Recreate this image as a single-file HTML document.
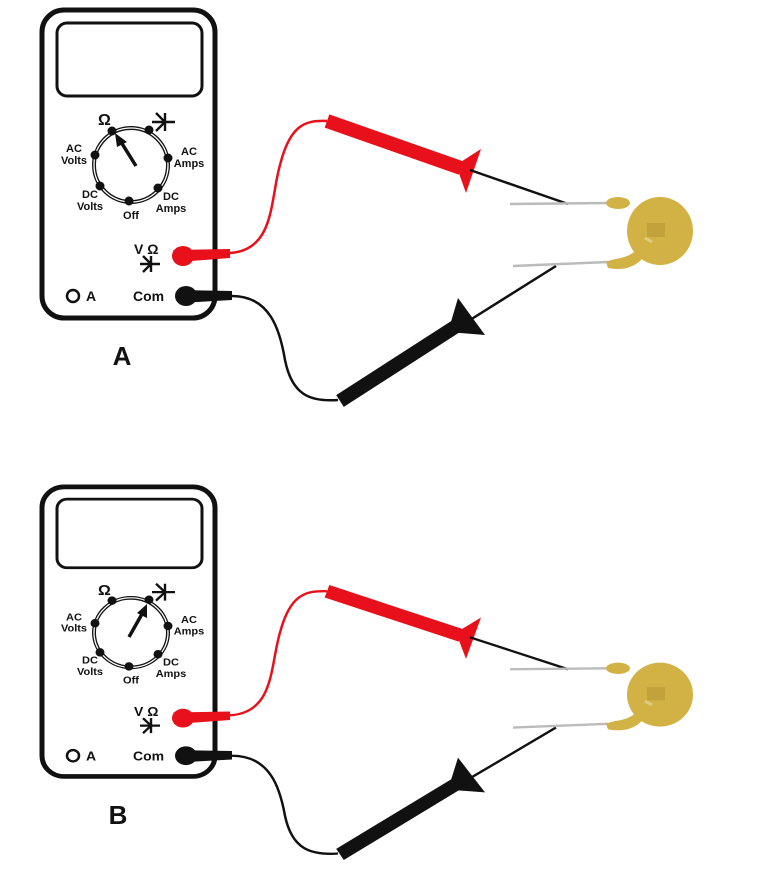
<!DOCTYPE html>
<html><head><meta charset="utf-8"><style>
html,body{margin:0;padding:0;background:#fff;}
svg{display:block;}
text{font-family:"Liberation Sans",sans-serif;font-weight:bold;fill:#111;}
</style></head><body>
<svg width="768" height="889" viewBox="0 0 768 889" xmlns="http://www.w3.org/2000/svg">
<defs>
<g id="panel">
  <rect x="42" y="10" width="173" height="308" rx="22" fill="#fff" stroke="#111" stroke-width="5"/>
  <rect x="57" y="23" width="145" height="73" rx="10" fill="#fff" stroke="#111" stroke-width="3"/>
  <circle cx="131" cy="165" r="37" fill="none" stroke="#111" stroke-width="4"/>
  <circle cx="131" cy="165" r="37" fill="none" stroke="#fff" stroke-width="1.3"/>
  <g fill="#111">
    <circle cx="112" cy="131" r="4.5"/><circle cx="149" cy="130" r="4.5"/>
    <circle cx="95" cy="155" r="4.5"/><circle cx="168" cy="158" r="4.5"/>
    <circle cx="100" cy="186" r="4.5"/><circle cx="158" cy="188" r="4.5"/>
    <circle cx="129" cy="201" r="4.5"/>
  </g>
  <text x="98" y="125" font-size="16">Ω</text>
  <path d="M152 122 H175 M165 113 V131 M156 113 L165 122 L156 131" stroke="#111" stroke-width="2.4" fill="none"/>
  <g font-size="11" text-anchor="middle">
    <text x="74" y="152">AC</text><text x="74" y="164">Volts</text>
    <text x="189" y="155">AC</text><text x="189" y="167">Amps</text>
    <text x="90" y="198">DC</text><text x="90" y="210">Volts</text>
    <text x="131" y="219">Off</text>
    <text x="171" y="200">DC</text><text x="171" y="212">Amps</text>
  </g>
  <text x="134" y="254" font-size="14">V Ω</text>
  <path d="M140 264 H160 M151 256 V272 M143 256 L151 264 L143 272" stroke="#111" stroke-width="2.4" fill="none"/>
  <circle cx="73" cy="296" r="6" fill="none" stroke="#111" stroke-width="2.5"/>
  <text x="86" y="301" font-size="14">A</text>
  <text x="133" y="301" font-size="14">Com</text>
  <!-- red lead -->
  <path d="M230 253 C275 250 270 200 280 165 C290 125 305 120 327 121" fill="none" stroke="#e8101a" stroke-width="2.5"/>
  <path d="M173 250 L230 249 L230 258 L178 262 Z" fill="#e8101a"/>
  <ellipse cx="183" cy="256" rx="11" ry="10" fill="#e8101a"/>
  <line x1="327" y1="121" x2="461" y2="168" stroke="#e8101a" stroke-width="14"/>
  <polygon points="481,149 466,193 456,165" fill="#e8101a"/>
  <line x1="470" y1="170" x2="568" y2="204" stroke="#111" stroke-width="2.5"/>
  <!-- black lead -->
  <path d="M232 296 C270 296 280 330 285 360 C292 395 310 402 338 400" fill="none" stroke="#111" stroke-width="2.5"/>
  <path d="M178 290 L232 291 L232 300 L180 303 Z" fill="#111"/>
  <ellipse cx="186" cy="296" rx="11" ry="10" fill="#111"/>
  <line x1="340" y1="401" x2="458" y2="325" stroke="#111" stroke-width="14"/>
  <polygon points="458,298 485,335 448,332" fill="#111"/>
  <line x1="470" y1="320" x2="556" y2="266" stroke="#111" stroke-width="2.5"/>
  <!-- capacitor -->
  <line x1="510" y1="204" x2="608" y2="203" stroke="#bbb" stroke-width="2.5"/>
  <line x1="513" y1="266" x2="608" y2="262" stroke="#bbb" stroke-width="2.5"/>
  <ellipse cx="660" cy="231" rx="33" ry="34" fill="#d2b244"/>
  <ellipse cx="618" cy="203" rx="12" ry="6" fill="#d2b244"/>
  <path d="M606 262 C618 256 632 262 645 238 L652 242 C642 268 625 271 608 268 Z" fill="#d2b244"/>
  <path d="M645 238 L652 242" stroke="#e0cc80" stroke-width="3"/>
  <rect x="647" y="223" width="18" height="14" fill="#b89838" opacity="0.6"/>
</g>
</defs>
<g><use href="#panel"/></g>
<g>
  <line x1="136" y1="166" x2="121" y2="142" stroke="#111" stroke-width="3.5"/>
  <polygon points="115,133 127,142 117,147" fill="#111"/>
</g>
<text x="122" y="365" font-size="26" text-anchor="middle">A</text>
<g transform="translate(0,477.5) scale(1,0.94)"><use href="#panel"/></g>
<g>
  <line x1="129" y1="637" x2="142" y2="614" stroke="#111" stroke-width="3.5"/>
  <polygon points="147,604 147,618 137,613" fill="#111"/>
</g>
<text x="118" y="824" font-size="26" text-anchor="middle">B</text>
</svg>
</body></html>
